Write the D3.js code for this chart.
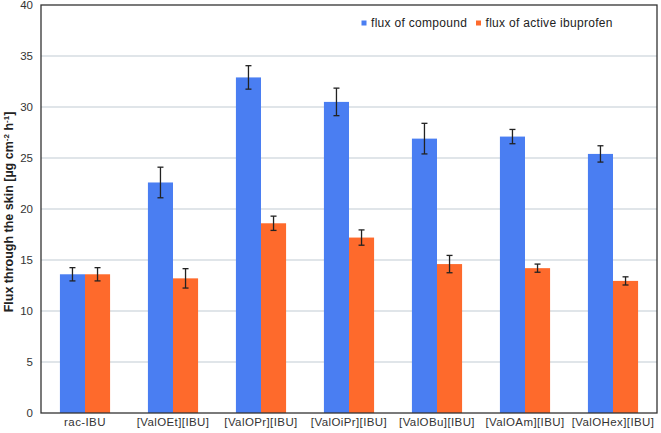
<!DOCTYPE html>
<html><head><meta charset="utf-8">
<script src="https://cdn.jsdelivr.net/npm/d3@7"></script>
<style>body{margin:0;background:#fff}svg{display:block}text{font-family:"Liberation Sans",Arial,sans-serif}</style>
</head><body><svg id="c" width="661" height="433"></svg>
<script>
const categories = ["rac-IBU","[ValOEt][IBU]","[ValOPr][IBU]","[ValOiPr][IBU]","[ValOBu][IBU]","[ValOAm][IBU]","[ValOHex][IBU]"];
const seriesNames = ["flux of compound","flux of active ibuprofen"];
const compound = [13.6,22.6,32.9,30.5,26.9,27.1,25.4];
const compoundErr = [0.65,1.5,1.15,1.35,1.5,0.7,0.8];
const active = [13.6,13.2,18.6,17.2,14.6,14.2,12.95];
const activeErr = [0.65,0.95,0.7,0.75,0.85,0.4,0.4];
const yTicks = [0,5,10,15,20,25,30,35,40];
const colors = ["#4a7ef2","#fe6a2c"];

const svg = d3.select("#c");
const L=41,R=657,T=5,B=413;
const x = d3.scaleBand().domain(categories).range([L,R]).paddingInner(0.43).paddingOuter(0.215);
const xs = d3.scaleBand().domain([0,1]).range([0,x.bandwidth()]);
const y = d3.scaleLinear().domain([0,40]).range([B,T]);

// gridlines
svg.append("g").selectAll("line").data(yTicks.filter(d=>d>0&&d<40)).join("line")
  .attr("x1",L).attr("x2",R).attr("y1",d=>y(d)).attr("y2",d=>y(d))
  .attr("stroke","#d6dce2").attr("stroke-width",1.5);

const series=[{v:compound,e:compoundErr},{v:active,e:activeErr}];
series.forEach((s,si)=>{
  const g=svg.append("g");
  g.selectAll("rect").data(categories).join("rect")
    .attr("x",c=>x(c)+xs(si)).attr("width",xs.bandwidth())
    .attr("y",(c,i)=>y(s.v[i])).attr("height",(c,i)=>B-y(s.v[i]))
    .attr("fill",colors[si]);
  const eb=svg.append("g").attr("stroke","#222").attr("stroke-width",1.3);
  categories.forEach((c,i)=>{
    const cx=x(c)+xs(si)+xs.bandwidth()/2;
    const hi=y(s.v[i]+s.e[i]), lo=y(s.v[i]-s.e[i]);
    eb.append("line").attr("x1",cx).attr("x2",cx).attr("y1",hi).attr("y2",lo);
    eb.append("line").attr("x1",cx-3).attr("x2",cx+3).attr("y1",hi).attr("y2",hi);
    eb.append("line").attr("x1",cx-3).attr("x2",cx+3).attr("y1",lo).attr("y2",lo);
  });
});

// frame
svg.append("rect").attr("x",L).attr("y",T).attr("width",R-L).attr("height",B-T)
  .attr("fill","none").attr("stroke","#333").attr("stroke-width",1.3);

// y axis
const ya = svg.append("g").attr("transform",`translate(${L},0)`)
  .call(d3.axisLeft(y).tickValues(yTicks).tickSize(0).tickPadding(8));
ya.select(".domain").remove();
ya.selectAll("text").attr("font-size",11.5).attr("fill","#333").attr("font-family","Liberation Sans, Arial, sans-serif");

// x axis
const xa = svg.append("g").attr("transform",`translate(0,${B})`)
  .call(d3.axisBottom(x).tickSize(0).tickPadding(5));
xa.select(".domain").remove();
xa.selectAll("text").attr("font-size",11.5).attr("letter-spacing",0.4).attr("fill","#333").attr("font-family","Liberation Sans, Arial, sans-serif");

// y label
const yl = svg.append("text").attr("transform",`translate(13,212) rotate(-90)`)
  .attr("text-anchor","middle").attr("font-size",12.5).attr("font-weight","bold").attr("fill","#222");
yl.append("tspan").text("Flux through the skin [µg cm");
yl.append("tspan").attr("font-size",8).attr("dy",-4).text("-2");
yl.append("tspan").attr("dy",4).text(" h");
yl.append("tspan").attr("font-size",8).attr("dy",-4).text("-1");
yl.append("tspan").attr("dy",4).text("]");

// legend
const legX=[361.5,476];
seriesNames.forEach((n,i)=>{
  svg.append("rect").attr("x",legX[i]).attr("y",20.5).attr("width",5).attr("height",5).attr("fill",colors[i]);
  svg.append("text").attr("x",legX[i]+9.5).attr("y",27).attr("font-size",12).attr("letter-spacing",0.3).attr("fill","#222").text(n);
});
</script></body></html>
